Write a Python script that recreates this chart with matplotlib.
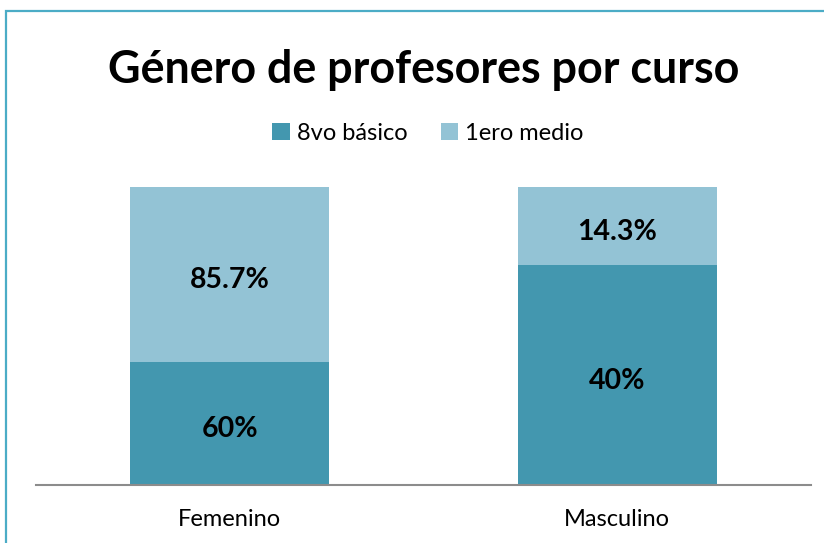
import numpy as np
import matplotlib
matplotlib.use("Agg")
import matplotlib.pyplot as plt
from matplotlib.patches import Rectangle

categories = ["Femenino", "Masculino"]
series_names = ["8vo básico", "1ero medio"]
basico = [60.0, 40.0]
medio = [85.7, 14.3]
labels_basico = ["60%", "40%"]
labels_medio = ["85.7%", "14.3%"]

color_basico = "#4397AF"
color_medio = "#93C3D5"

plt.rcParams['font.family'] = ['Lato', 'DejaVu Sans']

W, H = 824, 543
fig = plt.figure(figsize=(W / 100, H / 100), dpi=100)
ax = fig.add_axes([36 / W, 1 - 485 / H, 775 / W, 298 / H])

basico = np.array(basico)
medio = np.array(medio)
total = basico + medio
share_b = basico / total
share_m = medio / total
x = np.arange(len(categories))

bars_b = ax.bar(x, share_b, width=0.513, color=color_basico, label=series_names[0])
bars_m = ax.bar(x, share_m, width=0.513, bottom=share_b, color=color_medio, label=series_names[1])

for i in range(len(categories)):
    ax.annotate(labels_basico[i], (x[i], share_b[i] / 2), xytext=(0, -4),
                textcoords='offset points', ha='center', va='center',
                fontsize=20.5, fontweight='bold', color='black')
    ax.annotate(labels_medio[i], (x[i], share_b[i] + share_m[i] / 2), xytext=(0, -4),
                textcoords='offset points', ha='center', va='center',
                fontsize=20.5, fontweight='bold', color='black')

ax.set_xlim(-0.5, 1.5)
ax.set_ylim(0, 1)
ax.set_xticks(x)
ax.set_xticklabels(categories, fontsize=17)
ax.tick_params(axis='x', length=0, pad=17)
ax.set_yticks([])
for s in ['top', 'right', 'left']:
    ax.spines[s].set_visible(False)
ax.spines['bottom'].set_color('#8C8C8C')
ax.spines['bottom'].set_linewidth(1.5)

fig.text(424 / W, 1 - 70 / H, "Género de profesores por curso", ha='center', va='center',
         fontsize=32.3, fontweight='bold')

fig.legend(handles=[bars_b, bars_m], labels=series_names, loc='center',
           bbox_to_anchor=(428 / W, 1 - 133 / H), ncol=2, frameon=False,
           fontsize=17, handlelength=0.75, handleheight=0.75, handletextpad=0.3,
           columnspacing=1.4)

border = Rectangle((6 / W, -0.1), 1.1, 1 - 11 / H + 0.1, transform=fig.transFigure,
                   fill=False, edgecolor='#4BACC6', linewidth=1.6, clip_on=False)
fig.patches.append(border)

fig.savefig("out.png", dpi=100)
